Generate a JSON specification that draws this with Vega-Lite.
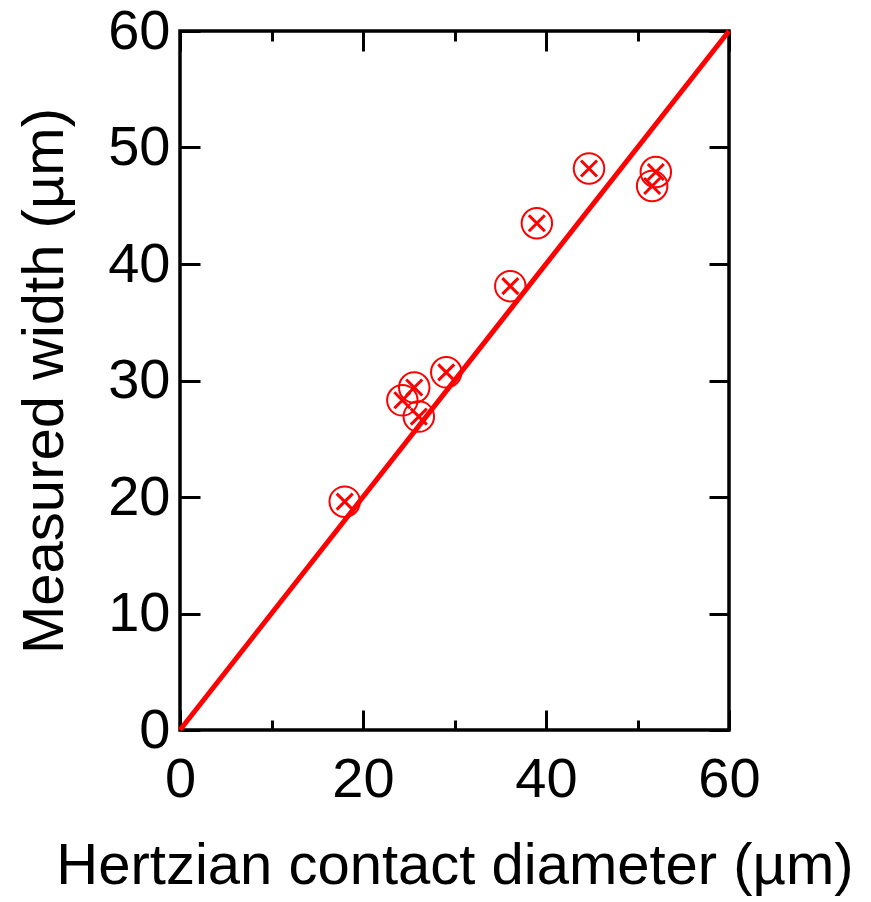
{
  "$schema": "https://vega.github.io/schema/vega-lite/v6.json",
  "width": 549,
  "height": 699,
  "autosize": {"type": "none"},
  "padding": {"left": 180, "top": 31, "right": 142, "bottom": 172},
  "background": "white",
  "datasets": {
    "points": [
      {"x": 18.0, "y": 19.6},
      {"x": 24.3, "y": 28.3},
      {"x": 25.6, "y": 29.4},
      {"x": 26.1, "y": 26.9},
      {"x": 29.1, "y": 30.7},
      {"x": 36.1, "y": 38.1},
      {"x": 39.0, "y": 43.5},
      {"x": 44.7, "y": 48.2},
      {"x": 51.6, "y": 46.7},
      {"x": 52.0, "y": 47.9}
    ],
    "fit": [
      {"x": 0, "y": 0},
      {"x": 60, "y": 60}
    ]
  },
  "config": {
    "view": {"stroke": "black", "strokeWidth": 3.5},
    "axis": {
      "domain": false,
      "grid": false,
      "labelFont": "Liberation Sans",
      "labelFontSize": 56,
      "labelColor": "black",
      "titleFont": "Liberation Sans",
      "titleFontSize": 58,
      "titleFontWeight": "normal",
      "titleColor": "black",
      "tickColor": "black",
      "tickWidth": 3,
      "labelFlush": false,
      "labelOverlap": false
    }
  },
  "resolve": {"axis": {"x": "independent", "y": "independent"}},
  "layer": [
    {
      "data": {"name": "fit"},
      "mark": {"type": "line", "opacity": 0},
      "encoding": {
        "x": {"field": "x", "type": "quantitative", "scale": {"domain": [0, 60], "nice": false},
          "axis": {"orient": "bottom", "values": [10, 30, 50], "tickSize": -10, "labels": false, "title": null}},
        "y": {"field": "y", "type": "quantitative", "scale": {"domain": [0, 60], "nice": false}, "axis": null}
      }
    },
    {
      "data": {"name": "fit"},
      "mark": {"type": "line", "opacity": 0},
      "encoding": {
        "x": {"field": "x", "type": "quantitative", "scale": {"domain": [0, 60], "nice": false},
          "axis": {"orient": "top", "values": [10, 30, 50], "tickSize": -10, "labels": false, "title": null}},
        "y": {"field": "y", "type": "quantitative", "scale": {"domain": [0, 60], "nice": false}, "axis": null}
      }
    },
    {
      "data": {"name": "points"},
      "mark": {"type": "point", "shape": "circle", "filled": false, "stroke": "#ff0000", "strokeWidth": 2, "size": 930, "opacity": 1},
      "encoding": {
        "x": {"field": "x", "type": "quantitative", "scale": {"domain": [0, 60], "nice": false},
          "axis": {"orient": "bottom", "values": [0, 20, 40, 60], "tickSize": -20, "labels": false, "title": null}},
        "y": {"field": "y", "type": "quantitative", "scale": {"domain": [0, 60], "nice": false},
          "axis": {"orient": "left", "values": [0, 10, 20, 30, 40, 50, 60], "tickSize": -20, "labels": false, "title": null}}
      }
    },
    {
      "data": {"name": "points"},
      "mark": {"type": "point", "shape": "M-1,-1L1,1M-1,1L1,-1", "filled": false, "stroke": "#ff0000", "strokeWidth": 3, "size": 256, "opacity": 1},
      "encoding": {
        "x": {"field": "x", "type": "quantitative", "scale": {"domain": [0, 60], "nice": false},
          "axis": {"orient": "top", "values": [0, 20, 40, 60], "tickSize": -20, "labels": false, "title": null}},
        "y": {"field": "y", "type": "quantitative", "scale": {"domain": [0, 60], "nice": false},
          "axis": {"orient": "right", "values": [0, 10, 20, 30, 40, 50, 60], "tickSize": -20, "labels": false, "title": null}}
      }
    },
    {
      "data": {"name": "fit"},
      "mark": {"type": "line", "stroke": "#ff0000", "strokeWidth": 5},
      "encoding": {
        "x": {"field": "x", "type": "quantitative", "scale": {"domain": [0, 60], "nice": false},
          "axis": {"orient": "bottom", "values": [0, 20, 40, 60], "ticks": false, "labelPadding": 22, "title": "Hertzian contact diameter (µm)", "titlePadding": 30}},
        "y": {"field": "y", "type": "quantitative", "scale": {"domain": [0, 60], "nice": false},
          "axis": {"orient": "left", "values": [0, 10, 20, 30, 40, 50, 60], "ticks": false, "labelPadding": 10, "title": "Measured width (µm)", "titlePadding": 33}}
      }
    }
  ]
}
